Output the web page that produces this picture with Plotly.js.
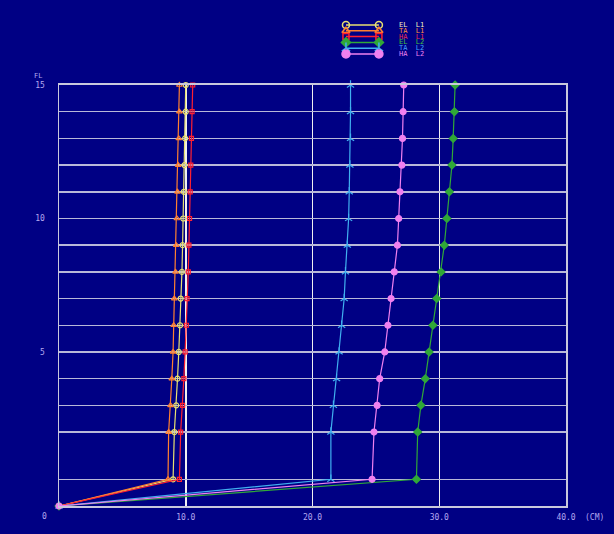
<!DOCTYPE html>
<html>
<head>
<meta charset="utf-8">
<script src="https://cdn.plot.ly/plotly-3.0.1.min.js"></script>
<style>
html,body{margin:0;padding:0;background:#000084;}
#chart{width:614px;height:534px;}
</style>
</head>
<body>
<div id="chart"></div>
<script>
// Floors and their plotted level positions (first story drawn shorter)
const floors = [0, 1, 2, 3, 4, 5, 6, 7, 8, 9, 10, 11, 12, 13, 14, 15];
const levelY = [0, 1.00, 2.77, 3.77, 4.77, 5.77, 6.77, 7.77, 8.77, 9.77, 10.77, 11.77, 12.77, 13.77, 14.77, 15.77];
const floorTickText = ['', '', '', '', '', '5', '', '', '', '', '10', '', '', '', '', '15'];

// Displacement (cm) per floor, series
const EL_L1 = [0, 9.0, 9.1, 9.25, 9.35, 9.45, 9.55, 9.6, 9.7, 9.75, 9.8, 9.85, 9.9, 9.95, 10.0, 10.0];
const TA_L1 = [0, 8.6, 8.65, 8.8, 8.9, 9.0, 9.05, 9.1, 9.2, 9.25, 9.3, 9.35, 9.4, 9.45, 9.5, 9.5];
const HA_L1 = [0, 9.5, 9.6, 9.75, 9.85, 9.95, 10.05, 10.1, 10.2, 10.25, 10.3, 10.35, 10.4, 10.45, 10.5, 10.55];
const EL_L2 = [0, 28.2, 28.3, 28.55, 28.9, 29.2, 29.5, 29.8, 30.15, 30.4, 30.6, 30.8, 31.0, 31.1, 31.2, 31.25];
const TA_L2 = [0, 21.45, 21.45, 21.65, 21.9, 22.1, 22.3, 22.5, 22.6, 22.75, 22.85, 22.9, 22.95, 23.0, 23.0, 23.0];
const HA_L2 = [0, 24.7, 24.85, 25.1, 25.3, 25.7, 25.95, 26.2, 26.45, 26.7, 26.8, 26.9, 27.05, 27.1, 27.15, 27.2];

const seriesNames = ['EL  L1', 'TA  L1', 'HA  L1', 'EL  L2', 'TA  L2', 'HA  L2'];
const xTickVals = [10, 20, 30, 40];
const xTickText = ['10.0', '20.0', '30.0', '40.0'];

const seriesData = [EL_L1, TA_L1, HA_L1, EL_L2, TA_L2, HA_L2];
const styles = [
  {color: '#e8e070', symbol: 'circle-open', size: 5, lsize: 7, text: '#f4f0c0'},
  {color: '#ff8030', symbol: 'triangle-up-open', size: 5, lsize: 7, text: '#ff9040'},
  {color: '#ff2030', symbol: 'square-open', size: 4, lsize: 6, text: '#e83050'},
  {color: '#30a838', symbol: 'diamond', size: 6, lsize: 7, text: '#40c040'},
  {color: '#40b0f0', symbol: 'y-up-open', size: 6, lsize: 7, text: '#40a0ff'},
  {color: '#f080f0', symbol: 'circle', size: 6, lsize: 8, text: '#f080f0'}
];

const traces = [];
seriesData.forEach((vals, i) => {
  const s = styles[i];
  traces.push({
    x: vals, y: levelY, xaxis: 'x', yaxis: 'y',
    mode: 'lines+markers', name: seriesNames[i], showlegend: false,
    cliponaxis: false,
    line: {color: s.color, width: 1.2},
    marker: {symbol: s.symbol, size: s.size, color: s.color, line: {color: s.color, width: 1.2}}
  });
});

// custom legend drawn on its own small axes
const legendRows = [0, 1, 2, 3, 4, 5];
seriesData.forEach((vals, i) => {
  const s = styles[i];
  traces.push({
    x: [0, 1], y: [legendRows[i], legendRows[i]], xaxis: 'x2', yaxis: 'y2',
    mode: 'lines+markers', showlegend: false, hoverinfo: 'skip', cliponaxis: false,
    line: {color: s.color, width: 1.5},
    marker: {symbol: s.symbol, size: s.lsize, color: s.color, line: {color: s.color, width: 1.5}}
  });
});

const labelFont = {family: 'DejaVu Sans Mono', size: 8, color: '#b4a8f0'};

const annotations = [
  {text: 'FL', xref: 'paper', yref: 'paper', x: -0.041, y: 0.874, showarrow: false, font: {family: 'DejaVu Sans Mono', size: 7, color: '#b4a8f0'}, xanchor: 'center', yanchor: 'middle'},
  {text: '0', xref: 'x', yref: 'paper', x: 0, y: 0, xshift: -15, yshift: -10, showarrow: false, font: labelFont, xanchor: 'center', yanchor: 'middle'},
  {text: '(CM)', xref: 'paper', yref: 'paper', x: 1.057, y: 0, yshift: -11, showarrow: false, font: labelFont, xanchor: 'center', yanchor: 'middle'}
];
seriesNames.forEach((n, i) => {
  annotations.push({text: n, xref: 'paper', yref: 'y2', x: 0.6667, y: legendRows[i], showarrow: false,
    xanchor: 'left', yanchor: 'middle', font: {family: 'DejaVu Sans Mono', size: 7, color: styles[i].text}});
});

const layout = {
  width: 614, height: 534,
  margin: {l: 59, r: 48, t: 14, b: 28, pad: 0},
  paper_bgcolor: '#000084', plot_bgcolor: '#000084',
  showlegend: false,
  xaxis: {
    range: [0, 40], domain: [0, 1], tickvals: xTickVals, ticktext: xTickText,
    showgrid: true, gridcolor: '#f0f0f0', gridwidth: 1.5,
    zeroline: false, showline: true, linecolor: '#c8c8dc', linewidth: 1.5, mirror: true,
    ticks: '', ticklabelstandoff: 3, tickfont: labelFont, fixedrange: true
  },
  yaxis: {
    range: [0, 15.77], domain: [0, 0.8557], tickvals: levelY, ticktext: floorTickText,
    showgrid: true, gridcolor: '#b8b8d8', gridwidth: 1.5,
    zeroline: false, showline: true, linecolor: '#c8c8dc', linewidth: 1.5, mirror: true,
    ticks: '', ticklabelstandoff: 11, tickfont: labelFont, fixedrange: true
  },
  xaxis2: {domain: [0.566, 0.631], range: [0, 1], anchor: 'y2', visible: false, fixedrange: true},
  yaxis2: {domain: [0.9128, 0.9835], range: [5.5, -0.5], anchor: 'x2', visible: false, fixedrange: true},
  annotations: annotations
};

Plotly.newPlot('chart', traces, layout, {displayModeBar: false, staticPlot: true});
</script>
</body>
</html>
